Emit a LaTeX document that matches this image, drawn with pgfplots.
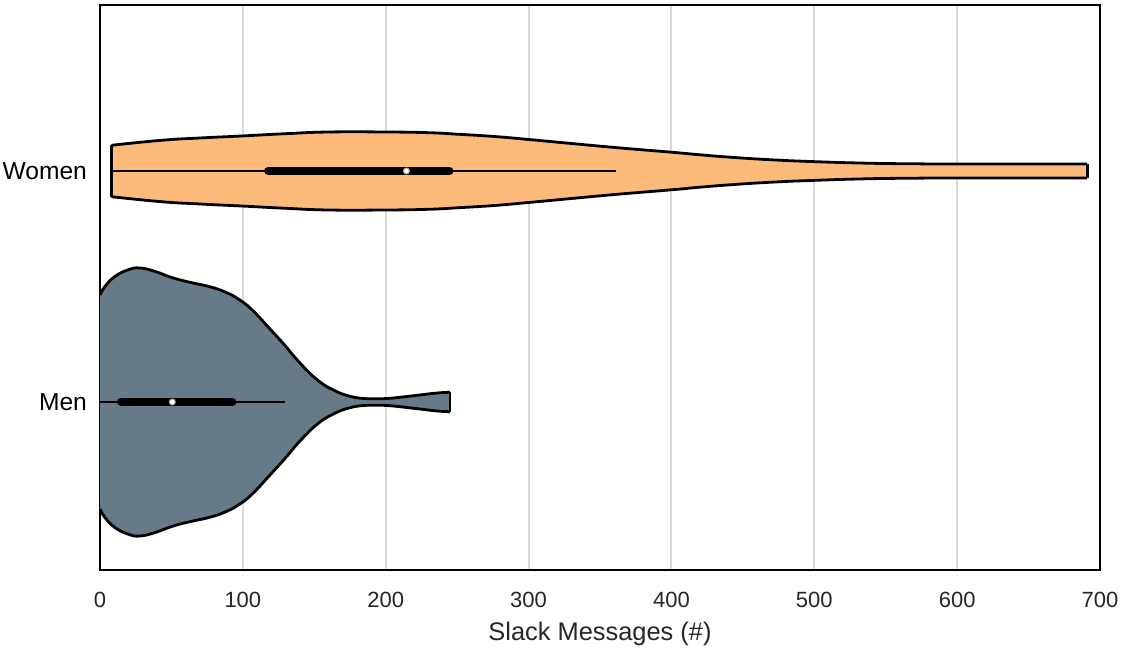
\documentclass[border=0pt]{standalone}
\usepackage{fontspec}
\setmainfont{Liberation Sans}
\usepackage{pgfplots}
\pgfplotsset{compat=1.18}
\usepgfplotslibrary{fillbetween}
\definecolor{wfill}{HTML}{FCBB7A}
\definecolor{mfill}{HTML}{667B87}
\definecolor{gridc}{HTML}{DADADA}
\definecolor{txt}{HTML}{262626}
\begin{document}
\begin{tikzpicture}
\begin{axis}[
  scale only axis, width=500pt, height=282.5pt,
  xmin=0, xmax=700, ymin=-168, ymax=397,
  xtick={0,100,...,700}, ytick={0,231}, yticklabels={Men,Women},
  xmajorgrids, grid style={gridc, line width=1pt},
  major tick length=0pt,
  axis line style={black, line width=1pt},
  xticklabel style={font=\fontsize{11}{13}\selectfont, text=txt, inner sep=0pt, anchor=north, yshift=-10.8pt},
  yticklabel style={font=\fontsize{12.3}{14}\selectfont, text=black, inner sep=0pt, anchor=east, xshift=-6.35pt},
  xlabel={Slack Messages (\#)},
  xlabel style={font=\fontsize{12.7}{15}\selectfont, text=txt, inner sep=0pt, at={(axis description cs:0.5,0)}, anchor=north, yshift=-25.9pt},
  /pgf/number format/assume math mode=true,
]
% Women violin (center 231)
\addplot[name path=wu, draw=black, line width=1.4pt, smooth, tension=0.8] coordinates {
(8,256.7) (43,261.7) (70,264) (99,266) (130,268.3) (160,270) (200,270) (230,269.3) (250,267.8) (276,265.5) (300,262.5) (330,258.5) (362,254.3) (400,249.8) (420,247.2) (441,244.8) (470,242.2) (499,240.4) (537,238.8) (570,238.2) (600,238) (691,238)};
\addplot[name path=wl, draw=black, line width=1.4pt, smooth, tension=0.8] coordinates {
(8,205.3) (43,200.3) (70,198) (99,196) (130,193.7) (160,192) (200,192) (230,192.7) (250,194.2) (276,196.5) (300,199.5) (330,203.5) (362,207.7) (400,212.2) (420,214.8) (441,217.2) (470,219.8) (499,221.6) (537,223.2) (570,223.8) (600,224) (691,224)};
\addplot[wfill] fill between[of=wu and wl];
\addplot[draw=black, line width=1.4pt] coordinates {(8,205.3) (8,256.7)};
\addplot[draw=black, line width=1.4pt] coordinates {(691,224) (691,238)};
% Men violin (center 0)
\addplot[name path=mu, draw=black, line width=1.4pt, smooth, tension=0.8] coordinates {
(0,107) (3.5,115.6) (10.5,125.6) (20,132.3) (28,134) (38.5,130.6) (50,124.6) (62,120) (76,115.6) (86,111) (93,106.5) (100,100) (108,90) (119,73) (128,59) (140,39) (152,22.3) (163,12.3) (175,5.7) (187,3.3) (198,3.3) (210,4.7) (222,6.7) (236,9) (245,9.7)};
\addplot[name path=ml, draw=black, line width=1.4pt, smooth, tension=0.8] coordinates {
(0,-107) (3.5,-115.6) (10.5,-125.6) (20,-132.3) (28,-134) (38.5,-130.6) (50,-124.6) (62,-120) (76,-115.6) (86,-111) (93,-106.5) (100,-100) (108,-90) (119,-73) (128,-59) (140,-39) (152,-22.3) (163,-12.3) (175,-5.7) (187,-3.3) (198,-3.3) (210,-4.7) (222,-6.7) (236,-9) (245,-9.7)};
\addplot[mfill] fill between[of=mu and ml];
\addplot[draw=black, line width=1.4pt] coordinates {(245,-9.7) (245,9.7)};
% Women inner box
\addplot[black, line width=1.3pt] coordinates {(8,231) (361,231)};
\addplot[black, line width=4.4pt, line cap=round] coordinates {(117.9,231) (244.4,231)};
\addplot[only marks, mark=*, mark size=1.5pt, mark options={fill=white, draw=gray!70, line width=0.5pt}] coordinates {(214.5,231)};
% Men inner box
\addplot[black, line width=1.3pt] coordinates {(0,0) (129.5,0)};
\addplot[black, line width=4.4pt, line cap=round] coordinates {(14.9,0) (92.5,0)};
\addplot[only marks, mark=*, mark size=1.5pt, mark options={fill=white, draw=gray!70, line width=0.5pt}] coordinates {(50.6,0)};
\end{axis}
\path ([shift={(-50pt,-39pt)}]current axis.south west) rectangle ([shift={(11pt,2.5pt)}]current axis.north east);
\end{tikzpicture}
\end{document}
